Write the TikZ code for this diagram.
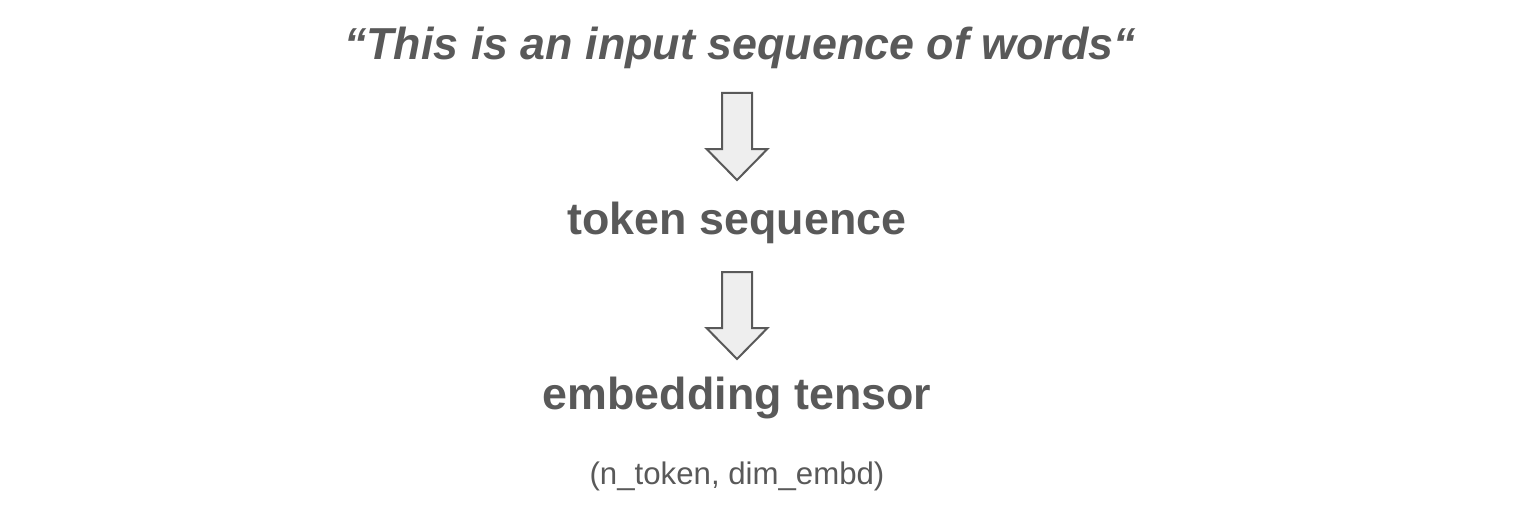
\documentclass[tikz,border=0pt]{standalone}
\usepackage{fontspec}
\setmainfont{Liberation Sans}
\usepackage{xcolor}
\definecolor{txtgray}{HTML}{595959}
\definecolor{arrfill}{HTML}{EEEEEE}
\tikzset{
  bigtext/.style={text=txtgray, inner sep=0pt, anchor=base, font=\fontsize{22.4}{27}\selectfont\bfseries},
  smalltext/.style={text=txtgray, inner sep=0pt, anchor=base, font=\fontsize{15.6}{19}\selectfont},
  blockarrow/.style={draw=txtgray, fill=arrfill, line width=1pt, line join=miter}
}

\begin{document}
\begin{tikzpicture}[x=0.5pt, y=-0.5pt]
  \useasboundingbox (0,0) rectangle (1534,524);
  % texts
  \node[bigtext, font=\fontsize{22.4}{27}\selectfont\bfseries\itshape] (words) at (740,60) {``This is an input sequence of words``};
  \node[bigtext] (tokens) at (737,234) {token sequence};
  \node[bigtext] (embd) at (737,409) {embedding tensor};
  \node[smalltext] (shape) at (737,484) {(n\_token, dim\_embd)};
  % block arrows
  \coordinate (arr1) at (737,93);
  \coordinate (arr2) at (737,272);
  \draw[blockarrow] (arr1) ++(-15,0) -- ++(30,0) -- ++(0,56) -- ++(15.5,0) -- ++(-30.5,31) -- ++(-30.5,-31) -- ++(15.5,0) -- cycle;
  \draw[blockarrow] (arr2) ++(-15,0) -- ++(30,0) -- ++(0,56) -- ++(15.5,0) -- ++(-30.5,31) -- ++(-30.5,-31) -- ++(15.5,0) -- cycle;
\end{tikzpicture}
\end{document}
